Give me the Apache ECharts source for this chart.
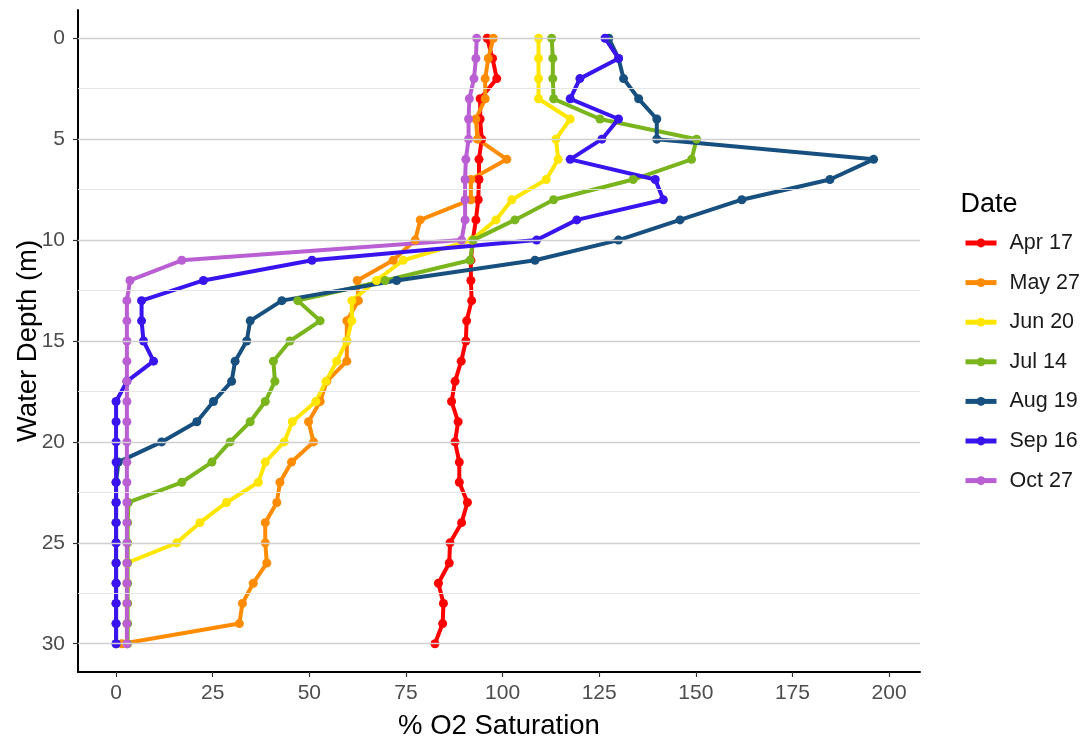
<!DOCTYPE html>
<html>
<head>
<meta charset="utf-8">
<script src="https://cdn.jsdelivr.net/npm/echarts@6/dist/echarts.min.js"></script>
<style>
html,body{margin:0;padding:0;background:#fff;}
#chart{width:1087px;height:741px;}
</style>
</head>
<body>
<div id="chart"></div>
<script>
// ---- data ----
const depths = [0,1,2,3,4,5,6,7,8,9,10,11,12,13,14,15,16,17,18,19,20,21,22,23,24,25,26,27,28,29,30];
const seriesNames = ["Apr 17","May 27","Jun 20","Jul 14","Aug 19","Sep 16","Oct 27"];
const apr17 = [96.0,97.4,98.5,94.2,94.2,94.6,93.9,93.9,93.7,93.1,92.3,91.8,91.8,92.0,90.7,90.5,89.3,87.7,86.8,88.5,87.7,88.8,88.8,90.9,89.4,86.4,86.2,83.4,84.7,84.5,82.5];
const may27 = [97.6,96.3,95.5,95.5,93.1,93.5,101.1,91.8,91.8,78.7,77.4,71.7,62.4,62.7,59.7,59.7,59.7,54.5,52.8,49.8,51.1,45.4,42.4,41.6,38.6,38.6,39.0,35.5,32.7,31.9,1.5];
const jun20 = [109.3,109.3,109.3,109.3,117.5,113.8,114.4,111.3,102.4,98.3,92.0,74.3,67.4,61.0,61.0,59.7,57.1,54.3,51.7,45.6,43.5,38.6,36.8,28.6,21.7,15.7,2.8,2.8,2.8,2.8,2.8];
const jul14 = [112.7,113.0,113.0,113.2,125.2,150.2,148.9,133.8,113.2,103.2,92.4,91.6,69.6,47.0,52.8,45.0,40.7,41.1,38.6,34.7,29.5,24.8,17.0,3.2,3.0,3.0,3.0,3.0,3.0,3.0,3.0];
const aug19 = [127.5,130.0,131.3,135.2,139.9,139.9,196.0,184.7,161.9,145.9,130.0,108.4,72.6,42.9,34.7,33.8,30.8,29.9,25.2,20.9,11.8,0.6,0,0,0,0,0,0,0,0,0];
const sep16 = [126.5,130.0,120.0,117.5,130.0,125.7,117.5,139.5,141.6,119.2,108.8,50.7,22.6,6.6,6.6,7.1,9.7,2.8,0,0,0,0,0,0,0,0,0,0,0,0,0];
const oct27 = [93.3,93.1,92.6,91.4,91.2,91.2,90.5,90.3,90.3,90.3,89.4,17.0,3.6,2.8,2.8,2.8,2.8,2.8,2.8,2.8,2.8,2.8,2.8,2.8,2.8,2.8,2.8,2.8,2.8,2.8,2.8];
const xTicks = [0,25,50,75,100,125,150,175,200];
const yTicks = [0,5,10,15,20,25,30];
const yMinorGrid = [2.5,7.5,12.5,17.5,22.5,27.5];

const seriesValues = [apr17, may27, jun20, jul14, aug19, sep16, oct27];
const colors = ["#FF0000","#FF8C00","#FFE600","#7AB51D","#17507F","#3A14EE","#BA5FD3"];

const FONT = "Liberation Sans, Arial, sans-serif";

const chart = echarts.init(document.getElementById('chart'), null, {renderer:'canvas'});

const lineSeries = seriesNames.map((name, i) => ({
  name: name,
  type: 'line',
  data: seriesValues[i].map((v, k) => [v, depths[k]]),
  symbol: 'circle',
  symbolSize: 9,
  showSymbol: true,
  lineStyle: {width: 4, color: colors[i]},
  itemStyle: {color: colors[i]},
  emphasis: {disabled: true},
  z: 3
}));

const gridSeries = {
  name: '_grid',
  type: 'line',
  data: [],
  silent: true,
  z: 1,
  markLine: {
    silent: true,
    symbol: ['none','none'],
    label: {show: false},
    animation: false,
    data: yTicks.map(v => ({yAxis: v, lineStyle: {color: '#d0d0d0', width: 1.3, type: 'solid'}}))
      .concat(yMinorGrid.map(v => ({yAxis: v, lineStyle: {color: '#e3e3e3', width: 0.9, type: 'solid'}})))
  }
};

chart.setOption({
  animation: false,
  backgroundColor: '#ffffff',
  textStyle: {fontFamily: FONT},
  title: {
    text: 'Date',
    left: 955.5,
    top: 186,
    textStyle: {fontFamily: FONT, fontSize: 27, fontWeight: 'normal', color: '#000'}
  },
  legend: {
    data: seriesNames,
    orient: 'vertical',
    left: 958,
    top: 227,
    itemWidth: 31,
    itemHeight: 11,
    itemGap: 17.6,
    lineStyle: {width: 5},
    textStyle: {fontFamily: FONT, fontSize: 21.5, color: '#1a1a1a', padding: [0,0,0,8]},
    selectedMode: false
  },
  grid: {left: 78, right: 167, top: 10, bottom: 69, containLabel: false, outerBoundsMode: 'none'},
  xAxis: {
    type: 'value',
    min: -9.85,
    max: 208,
    name: '% O2 Saturation',
    nameLocation: 'middle',
    nameGap: 40,
    nameMoveOverlap: false,
    nameTextStyle: {fontFamily: FONT, fontSize: 27.5, color: '#000'},
    axisLine: {show: true, onZero: false, lineStyle: {color: '#000', width: 2}},
    axisTick: {show: true, customValues: xTicks, length: 5, lineStyle: {color: '#333', width: 1.2}},
    axisLabel: {customValues: xTicks, fontFamily: FONT, fontSize: 21, color: '#4D4D4D', margin: 11},
    splitLine: {show: false}
  },
  yAxis: {
    type: 'value',
    inverse: true,
    min: -1.4,
    max: 31.4,
    name: 'Water Depth (m)',
    nameLocation: 'middle',
    nameGap: 36,
    nameMoveOverlap: false,
    nameRotate: 90,
    nameTextStyle: {fontFamily: FONT, fontSize: 27.5, color: '#000'},
    axisLine: {show: true, onZero: false, lineStyle: {color: '#000', width: 2}},
    axisTick: {show: true, customValues: yTicks, length: 5, lineStyle: {color: '#333', width: 1.2}},
    axisLabel: {customValues: yTicks, fontFamily: FONT, fontSize: 21, color: '#4D4D4D', margin: 13},
    splitLine: {show: false}
  },
  series: [gridSeries].concat(lineSeries)
});
</script>
</body>
</html>
